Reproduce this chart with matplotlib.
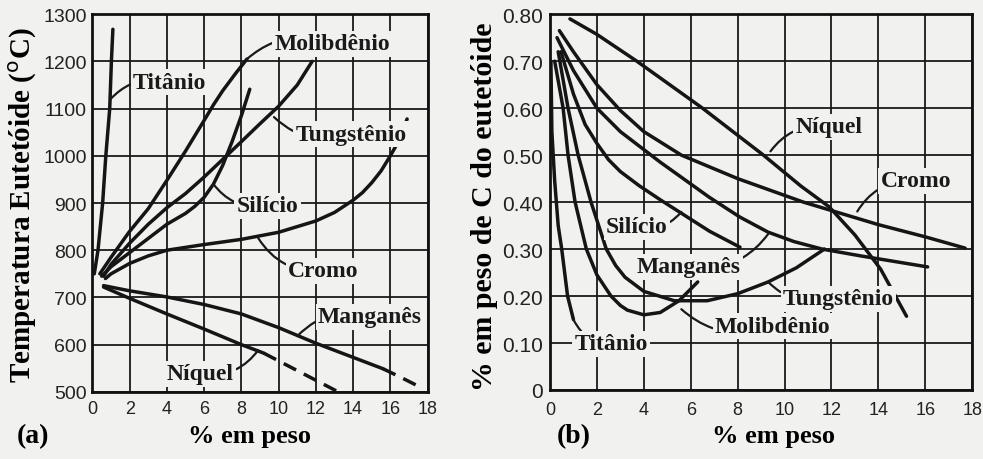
import matplotlib
matplotlib.use("Agg")
import matplotlib.pyplot as plt

# (a) temperatura eutetóide x teor do elemento de liga
ti_a_x = [0.1, 0.3, 0.55, 0.72, 0.93, 1.02, 1.1]
ti_a_y = [750, 800, 900, 1000, 1100, 1200, 1268]
mo_a_x = [0.4, 1, 2, 3, 4, 5, 6, 6.5, 7, 7.7, 8.3]
mo_a_y = [750, 785, 840, 888, 948, 1010, 1075, 1108, 1138, 1175, 1205]
w_a_x = [0.6, 1, 2, 3, 4, 5, 6, 7.2, 8, 9, 10, 11, 11.8]
w_a_y = [745, 770, 815, 855, 890, 920, 955, 1000, 1030, 1068, 1105, 1150, 1200]
si_a_x = [0.5, 1, 2, 3, 4, 5, 5.5, 6, 6.5, 7, 7.5, 8, 8.45]
si_a_y = [745, 765, 795, 825, 855, 878, 893, 912, 940, 980, 1030, 1085, 1141]
cr_a_x = [0.7, 1, 2, 3, 4, 6, 8, 10, 12, 13, 14, 14.5, 15, 15.5, 16, 16.5, 16.9]
cr_a_y = [740, 750, 772, 788, 800, 812, 823, 838, 862, 880, 906, 922, 943, 968, 1000, 1035, 1078]
mn_a_x = [0.6, 2, 4, 6, 8, 10, 12, 14, 15.6]
mn_a_y = [725, 714, 701, 685, 665, 636, 603, 573, 549]
mn_a_dash_x = [15.6, 16.6, 17.6]
mn_a_dash_y = [549, 530, 510]
ni_a_x = [0.6, 2, 4, 6, 8, 9.2]
ni_a_y = [722, 698, 665, 633, 600, 582]
ni_a_dash_x = [9.2, 11, 13.1]
ni_a_dash_y = [582, 545, 502]

# (b) % de C do eutetóide x teor do elemento de liga
ni_b_x = [0.85, 2, 3.7, 6.5, 9.1, 10.7, 11.9, 13, 14.1, 15.2]
ni_b_y = [0.79, 0.757, 0.70, 0.60, 0.50, 0.434, 0.39, 0.33, 0.257, 0.157]
cr_b_x = [0.4, 1, 2, 3, 4, 5.6, 8, 10.8, 12, 14, 16, 17.7]
cr_b_y = [0.765, 0.72, 0.65, 0.595, 0.55, 0.50, 0.45, 0.40, 0.382, 0.352, 0.326, 0.302]
mn_b_x = [0.3, 1, 2, 3, 4.7, 6.8, 8.1, 9.3, 10.4, 11.6, 13.3, 16.1]
mn_b_y = [0.75, 0.68, 0.60, 0.55, 0.485, 0.41, 0.368, 0.336, 0.316, 0.30, 0.285, 0.262]
si_b_x = [0.47, 1, 1.5, 2, 2.5, 3, 3.8, 4.7, 6.8, 8.1]
si_b_y = [0.72, 0.63, 0.565, 0.525, 0.49, 0.465, 0.435, 0.405, 0.338, 0.304]
w_b_x = [0.35, 0.77, 1.2, 1.75, 2.4, 2.8, 3.2, 4, 5.3, 6.7, 8, 9.3, 10.5, 11.7]
w_b_y = [0.72, 0.60, 0.50, 0.40, 0.30, 0.265, 0.24, 0.21, 0.19, 0.19, 0.205, 0.23, 0.26, 0.30]
mo_b_x = [0.2, 0.56, 0.77, 1.07, 1.55, 2, 2.6, 3, 3.3, 4, 4.7, 5.5, 6.3]
mo_b_y = [0.70, 0.60, 0.50, 0.40, 0.30, 0.245, 0.20, 0.18, 0.17, 0.16, 0.165, 0.19, 0.23]
ti_b_x = [0.04, 0.08, 0.2, 0.35, 0.5, 0.75, 1.0]
ti_b_y = [0.70, 0.55, 0.445, 0.35, 0.30, 0.20, 0.15]

xticks = list(range(0, 19, 2))
yticks_a = list(range(500, 1301, 100))
yticks_b = [0, 0.1, 0.2, 0.3, 0.4, 0.5, 0.6, 0.7, 0.8]
yticklabels_b = ["0", "0.10", "0.20", "0.30", "0.40", "0.50", "0.60", "0.70", "0.80"]

BG = "#f1f1ef"
INK = "#151515"
SERIF = ["Liberation Serif", "DejaVu Serif"]
SANS = ["Liberation Sans", "DejaVu Sans"]
LW = 2.5

fig = plt.figure(figsize=(9.83, 4.6), dpi=100, facecolor=BG)
ax_a = fig.add_axes([0.094, 0.146, 0.341, 0.821])
ax_b = fig.add_axes([0.5595, 0.150, 0.4295, 0.817])


def style_axes(ax, yticks, ylim, ysize, ypad, xpad, ylabels=None):
    ax.set_facecolor(BG)
    ax.set_xlim(0, 18)
    ax.set_ylim(*ylim)
    ax.set_xticks(xticks)
    ax.set_yticks(yticks)
    if ylabels is not None:
        ax.set_yticklabels(ylabels)
    ax.grid(True, color="#1a1a1a", lw=1.3)
    ax.set_axisbelow(True)
    for s in ax.spines.values():
        s.set_linewidth(2.0)
        s.set_color("#111111")
    ax.tick_params(axis="y", length=0, pad=ypad, labelsize=ysize, colors="#222222")
    ax.tick_params(axis="x", length=0, pad=xpad, labelsize=13, colors="#222222")
    for lab in ax.get_xticklabels() + ax.get_yticklabels():
        lab.set_family(SANS)


def label(ax, text, xy, xytext, rad=0.3):
    ax.annotate(text, xy=xy, xytext=xytext, ha="center", va="center",
                fontsize=17, fontweight="bold", family=SERIF, color="#1a1a1a",
                bbox=dict(boxstyle="square,pad=0.1", fc=BG, ec="none"),
                arrowprops=dict(arrowstyle="-", lw=1.6, color="#1a1a1a",
                                shrinkA=0, shrinkB=0,
                                connectionstyle=f"arc3,rad={rad}"))


# painel (a)
style_axes(ax_a, yticks_a, (500, 1300), 14, 4, 6)
for xs, ys in [(ti_a_x, ti_a_y), (mo_a_x, mo_a_y), (w_a_x, w_a_y), (si_a_x, si_a_y),
               (cr_a_x, cr_a_y), (mn_a_x, mn_a_y), (ni_a_x, ni_a_y)]:
    ax_a.plot(xs, ys, color=INK, lw=LW, solid_capstyle="round", solid_joinstyle="round")
ax_a.plot(mn_a_dash_x, mn_a_dash_y, color=INK, lw=LW, ls=(0, (4, 2.5)))
ax_a.plot(ni_a_dash_x, ni_a_dash_y, color=INK, lw=LW, ls=(0, (4, 2.5)))

label(ax_a, "Titânio", (0.97, 1120), (4.15, 1156), rad=0.3)
label(ax_a, "Molibdênio", (8.3, 1205), (12.9, 1237), rad=0.3)
label(ax_a, "Tungstênio", (9.75, 1082), (13.9, 1046), rad=-0.3)
label(ax_a, "Silício", (6.5, 940), (9.4, 894), rad=-0.3)
label(ax_a, "Cromo", (8.9, 826), (12.4, 756), rad=-0.3)
label(ax_a, "Manganês", (11.0, 618), (14.9, 659), rad=0.3)
label(ax_a, "Níquel", (8.9, 588), (5.8, 538), rad=0.3)

ax_a.set_ylabel("Temperatura Eutetóide ($^{\\mathrm{o}}$C)", fontsize=21,
                fontweight="bold", family=SERIF)
ax_a.yaxis.set_label_coords(-0.16, 0.497)
ax_a.set_xlabel("% em peso", fontsize=19, fontweight="bold", family=SERIF)
ax_a.xaxis.set_label_coords(0.47, -0.085)
fig.text(0.034, 0.05, "(a)", fontsize=20, fontweight="bold", family=SERIF,
         ha="center", va="center")

# painel (b)
style_axes(ax_b, yticks_b, (0, 0.8), 15, 5, 8, yticklabels_b)
for xs, ys in [(ni_b_x, ni_b_y), (cr_b_x, cr_b_y), (mn_b_x, mn_b_y), (si_b_x, si_b_y),
               (w_b_x, w_b_y), (mo_b_x, mo_b_y), (ti_b_x, ti_b_y)]:
    ax_b.plot(xs, ys, color=INK, lw=LW, solid_capstyle="round", solid_joinstyle="round")

label(ax_b, "Níquel", (9.4, 0.508), (11.9, 0.56), rad=0.3)
label(ax_b, "Cromo", (13.1, 0.38), (15.6, 0.445), rad=0.3)
label(ax_b, "Silício", (5.6, 0.379), (3.7, 0.347), rad=0.3)
label(ax_b, "Manganês", (9.3, 0.332), (5.9, 0.262), rad=0.3)
label(ax_b, "Tungstênio", (9.3, 0.23), (12.3, 0.194), rad=-0.3)
label(ax_b, "Molibdênio", (5.6, 0.172), (9.5, 0.136), rad=-0.3)
label(ax_b, "Titânio", (1.0, 0.15), (2.6, 0.098), rad=-0.3)

ax_b.set_ylabel("% em peso de C do eutetóide", fontsize=21.5,
                fontweight="bold", family=SERIF)
ax_b.yaxis.set_label_coords(-0.122, 0.49)
ax_b.set_xlabel("% em peso", fontsize=19, fontweight="bold", family=SERIF)
ax_b.xaxis.set_label_coords(0.53, -0.09)
fig.text(0.584, 0.05, "(b)", fontsize=20, fontweight="bold", family=SERIF,
         ha="center", va="center")

fig.savefig("out.png", dpi=100, facecolor=BG)
